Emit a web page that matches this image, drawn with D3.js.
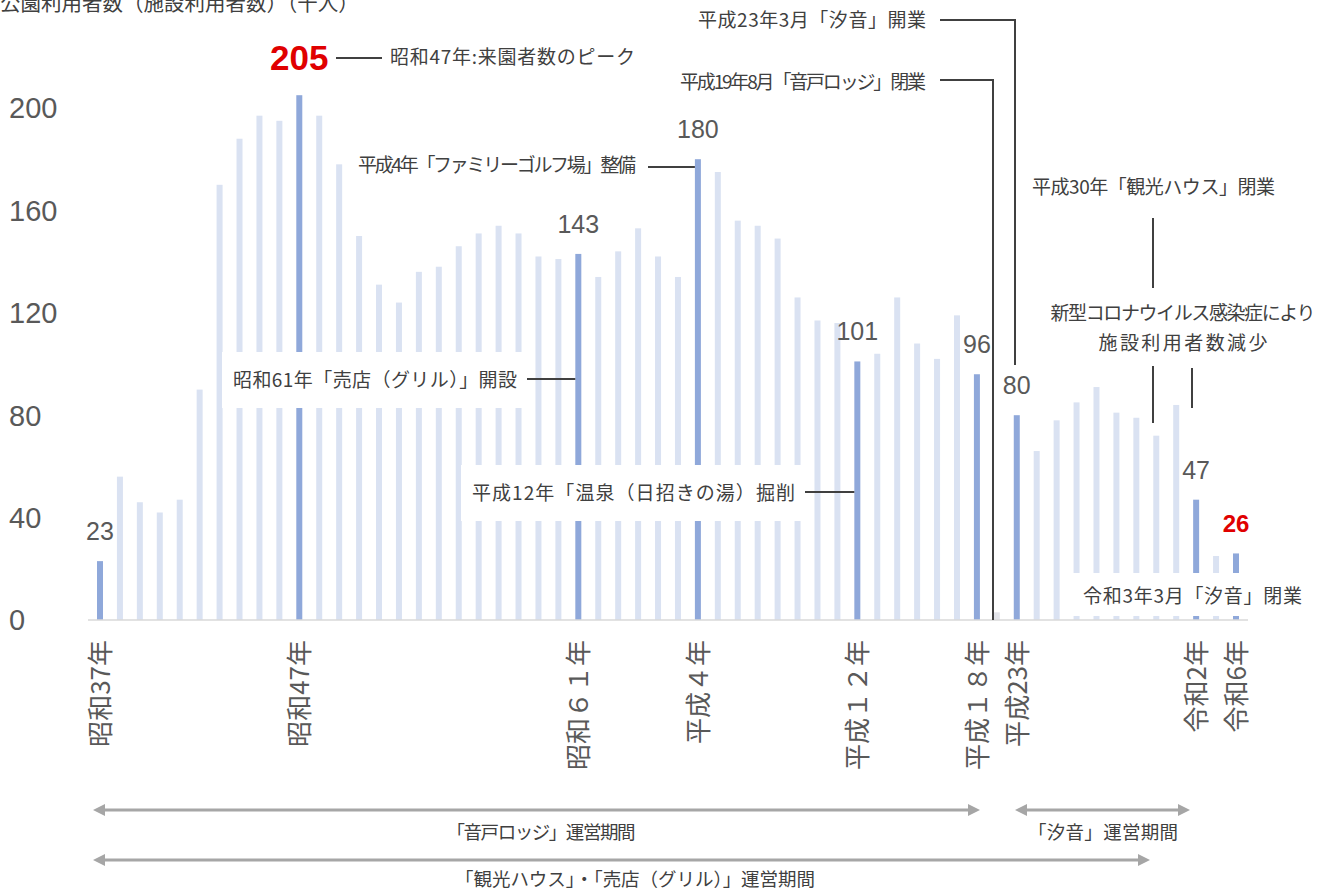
<!DOCTYPE html>
<html>
<head>
<meta charset="utf-8">
<script src="https://cdn.jsdelivr.net/npm/d3@7"></script>
<style>
  body { margin: 0; background: #fff; }
</style>
</head>
<body>
<div id="chart"></div>
<script>
// Data
const years = [1962, 1963, 1964, 1965, 1966, 1967, 1968, 1969, 1970, 1971,
    1972, 1973, 1974, 1975, 1976, 1977, 1978, 1979, 1980, 1981,
    1982, 1983, 1984, 1985, 1986, 1987, 1988, 1989, 1990, 1991,
    1992, 1993, 1994, 1995, 1996, 1997, 1998, 1999, 2000, 2001,
    2002, 2003, 2004, 2005, 2006, 2007,
    2011, 2012, 2013, 2014, 2015, 2016, 2017, 2018, 2019, 2020,
    2023, 2024];
const visitors = [23, 56, 46, 42, 47, 90, 170, 188, 197, 195,
    205, 197, 178, 150, 131, 124, 136, 138, 146, 151,
    154, 151, 142, 141, 143, 134, 144, 153, 142, 134,
    180, 175, 156, 154, 149, 126, 117, 116, 101, 104,
    126, 108, 102, 119, 96, 3,
    80, 66, 78, 85, 91, 81, 79, 72, 84, 47,
    25, 26];
const highlightYears = [1962, 1972, 1986, 1992, 2000, 2006, 2011, 2020, 2024];
const redYears = [1972, 2024];
const tickYears = [1962, 1972, 1986, 1992, 2000, 2006, 2011, 2020, 2024];
const tickLabels = ["昭和37年", "昭和47年", "昭和６１年", "平成４年", "平成１２年", "平成１８年", "平成23年", "令和2年", "令和6年"];
const yTicks = [0, 40, 80, 120, 160, 200];

const W = 1327, H = 892;
const jp = '"Noto Sans CJK JP", "Noto Sans", sans-serif';
const num = '"Liberation Sans", Arial, sans-serif';
const textColor = '#404040';
const numColor = '#595959';

const svg = d3.select('#chart')
    .append('svg')
    .attr('width', W)
    .attr('height', H);

const x = d3.scalePoint().domain(years).range([100, 1236]);
const y = d3.scaleLinear().domain([0, 200]).range([620, 108]);
const val = d => visitors[years.indexOf(d)];

// title (top is clipped in the original)
svg.append('text')
    .attr('x', 0).attr('y', 11)
    .style('font-family', jp).style('font-size', '20.5px')
    .attr('fill', textColor)
    .text('公園利用者数（施設利用者数）（千人）');

// bars
svg.selectAll('.bar')
    .data(years)
    .enter()
    .append('rect')
    .attr('class', 'bar')
    .attr('x', d => x(d) - 3)
    .attr('width', 6)
    .attr('y', d => y(val(d)))
    .attr('height', d => y(0) - y(val(d)))
    .attr('fill', d => highlightYears.includes(d) ? '#8fa8da' : (d === 2007 ? '#e3e4ea' : '#dae2f2'));

// baseline
svg.append('line')
    .attr('x1', 88).attr('x2', 1248)
    .attr('y1', y(0)).attr('y2', y(0))
    .attr('stroke', '#d9d9d9').attr('stroke-width', 1.5);

// y labels
svg.selectAll('.ylab')
    .data(yTicks)
    .enter()
    .append('text')
    .attr('x', 9)
    .attr('y', d => y(d))
    .attr('dy', '0.36em')
    .style('font-family', num).style('font-size', '29px')
    .attr('fill', numColor)
    .text(d => d);

// x labels (vertical)
svg.selectAll('.xlab')
    .data(tickYears)
    .enter()
    .append('text')
    .attr('transform', d => `translate(${x(d)},640) rotate(-90)`)
    .attr('dy', '0.38em')
    .attr('text-anchor', 'end')
    .style('font-family', jp).style('font-size', '26px')
    .attr('fill', numColor)
    .text((d, i) => tickLabels[i]);

// white boxes behind annotations
const boxes = [
    [222, 352, 302, 56],
    [461, 465, 343, 56],
    [1040, 288, 284, 78],
    [1073, 573, 242, 43]
];
svg.selectAll('.box')
    .data(boxes)
    .enter()
    .append('rect')
    .attr('x', d => d[0]).attr('y', d => d[1])
    .attr('width', d => d[2]).attr('height', d => d[3])
    .attr('fill', '#fff');

// value labels
svg.selectAll('.vlab')
    .data(highlightYears)
    .enter()
    .append('text')
    .attr('x', d => x(d))
    .attr('y', d => y(val(d)) - (d === 1972 ? 25 : 21))
    .attr('text-anchor', 'middle')
    .style('font-family', num)
    .style('font-size', d => d === 1972 ? '35px' : (d === 2024 ? '24px' : '25px'))
    .style('font-weight', d => redYears.includes(d) ? 'bold' : 'normal')
    .attr('fill', d => redYears.includes(d) ? '#e00000' : numColor)
    .text(d => val(d));

// annotation lines
const line = d3.line();
const annLines = [
    [[336, 58], [382, 58]],
    [[648, 167], [x(1992) - 3, 167]],
    [[527, 379], [x(1986) - 3, 379]],
    [[805, 492], [x(2000) - 3, 492]],
    [[940, 80], [993, 80], [993, y(0)]],
    [[940, 20], [1015, 20], [1015, 365]],
    [[1153, 218], [1153, 288]],
    [[1153, 366], [1153, 423]],
    [[1192, 368], [1192, 408]]
];
svg.selectAll('.aline')
    .data(annLines)
    .enter()
    .append('path')
    .attr('d', d => line(d))
    .attr('fill', 'none')
    .attr('stroke', '#404040')
    .attr('stroke-width', 2);

// annotation texts, widths fitted to the original
const annText = (tx, ty, anchor, s, len) => svg.append('text')
    .attr('x', tx).attr('y', ty)
    .attr('dy', '0.36em')
    .attr('text-anchor', anchor)
    .attr('textLength', len)
    .style('font-family', jp).style('font-size', '19px')
    .attr('fill', textColor)
    .text(s);

annText(390, 57, 'start', '昭和47年:来園者数のピーク', 245);
annText(636, 165, 'end', '平成4年「ファミリーゴルフ場」整備', 278);
annText(233, 380, 'start', '昭和61年「売店（グリル）」開設', 284);
annText(472, 493, 'start', '平成12年「温泉（日招きの湯）掘削', 323);
annText(926, 82, 'end', '平成19年8月「音戸ロッジ」閉業', 246);
annText(926, 20, 'end', '平成23年3月「汐音」開業', 228);
annText(1032, 187, 'start', '平成30年「観光ハウス」閉業', 243);
annText(1183, 313, 'middle', '新型コロナウイルス感染症により', 265);
annText(1183, 343, 'middle', '施設利用者数減少', 169);
annText(1083, 596, 'start', '令和3年3月「汐音」閉業', 219);

// period arrows
const periods = [
    { x1: 93, x2: 980, y: 810, tx: 541, len: 189, label: '「音戸ロッジ」運営期間' },
    { x1: 1015, x2: 1190, y: 810, tx: 1103, len: 150, label: '「汐音」運営期間' },
    { x1: 93, x2: 1150, y: 860, tx: 635, len: 360, label: '「観光ハウス」・「売店（グリル）」運営期間' }
];
const arrowColor = '#a6a6a6';
const pg = svg.selectAll('.period')
    .data(periods)
    .enter()
    .append('g');
pg.append('line')
    .attr('x1', d => d.x1 + 8).attr('x2', d => d.x2 - 8)
    .attr('y1', d => d.y).attr('y2', d => d.y)
    .attr('stroke', arrowColor).attr('stroke-width', 3);
pg.append('path')
    .attr('d', d => `M${d.x1},${d.y} L${d.x1 + 12},${d.y - 6} L${d.x1 + 12},${d.y + 6} Z`)
    .attr('fill', arrowColor);
pg.append('path')
    .attr('d', d => `M${d.x2},${d.y} L${d.x2 - 12},${d.y - 6} L${d.x2 - 12},${d.y + 6} Z`)
    .attr('fill', arrowColor);
pg.append('text')
    .attr('x', d => d.tx)
    .attr('y', d => d.y + (d.y > 850 ? 19 : 22))
    .attr('dy', '0.36em')
    .attr('text-anchor', 'middle')
    .attr('textLength', d => d.len)
    .style('font-family', jp).style('font-size', '18.5px')
    .attr('fill', textColor)
    .text(d => d.label);
</script>
</body>
</html>
